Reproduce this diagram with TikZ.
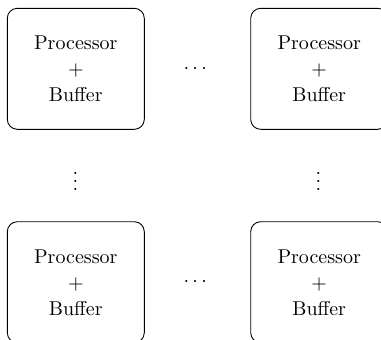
\documentclass[tikz,border=0pt]{standalone}
\usetikzlibrary{calc}
\begin{document}
\begin{tikzpicture}[x=1pt,y=1pt,
  pbox/.style={draw, rounded corners=5pt, minimum width=68.5pt, minimum height=60.5pt,
    align=center, inner sep=0pt, line width=0.45pt, text depth=0pt},
  dotsnode/.style={inner sep=0pt}]
\useasboundingbox (0,0) rectangle (190.5,-169.5);
\clip (0,0) rectangle (190.5,-169.5);
\node[pbox] (p11) at (37.9,-34.4) {Processor\\[1pt]$+$\\[1pt]Buffer};
\node[pbox] (p1n) at (159.6,-34.4) {Processor\\[1pt]$+$\\[1pt]Buffer};
\node[pbox] (pm1) at (37.9,-141.1) {Processor\\[1pt]$+$\\[1pt]Buffer};
\node[pbox] (pmn) at (159.6,-141.1) {Processor\\[1pt]$+$\\[1pt]Buffer};
\node[dotsnode] (hd1) at (97.6,-34.4) {$\cdots$};
\node[dotsnode] (hd2) at (97.6,-141.1) {$\cdots$};
\node[dotsnode] (vd1) at (37.7,-87.8) {$\vdots$};
\node[dotsnode] (vd2) at (159.2,-87.8) {$\vdots$};
\end{tikzpicture}
\end{document}
